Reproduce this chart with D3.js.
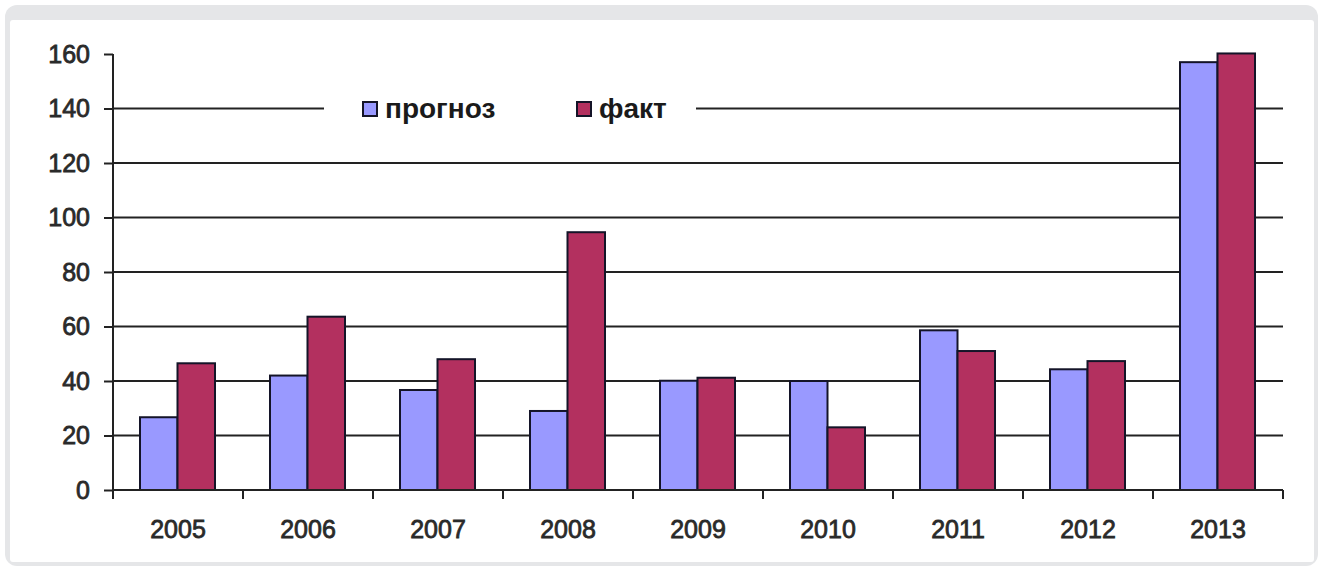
<!DOCTYPE html>
<html><head><meta charset="utf-8">
<script src="https://cdn.jsdelivr.net/npm/d3@7"></script>
<style>
html,body{margin:0;padding:0;background:#fff;}
svg{display:block;}
</style></head>
<body>
<svg id="chart" width="1319" height="568"></svg>
<script>
const categories = ["2005","2006","2007","2008","2009","2010","2011","2012","2013"];
const seriesNames = ["прогноз","факт"];
const forecast = [26.7, 42, 36.7, 29, 40.1, 40, 58.6, 44.3, 157];
const actual   = [46.5, 63.6, 48, 94.6, 41.2, 23, 51, 47.3, 160.2];
const yTicks = [0,20,40,60,80,100,120,140,160];
const colors = ["#9999ff","#b3305f"];

const svg = d3.select("#chart");
const font = "'Liberation Sans', Arial, sans-serif";

// frame
svg.append("rect").attr("x",5).attr("y",5).attr("width",1313).attr("height",561)
  .attr("rx",12).attr("fill","#e5e6e8");
svg.append("rect").attr("x",10).attr("y",20).attr("width",1304).attr("height",542)
  .attr("rx",3).attr("fill","#fff");

const x = d3.scaleBand().domain(categories).range([113,1283]).padding(0);
const inner = d3.scaleBand().domain(seriesNames).range([27,102]).padding(0);
const y = d3.scaleLinear().domain([0,160]).range([490,54]);

const g = svg.append("g");

// gridlines
g.selectAll("line.grid").data(yTicks.filter(t=>t>0 && t<160)).join("line")
  .attr("class","grid")
  .attr("x1",113).attr("x2",1283)
  .attr("y1",d=>y(d)).attr("y2",d=>y(d))
  .attr("stroke","#222").attr("stroke-width",2);

// legend background over gridline
svg.append("rect").attr("x",324).attr("y",94).attr("width",372).attr("height",30).attr("fill","#fff");

// bars
const data = categories.map((c,i)=>({c, vals:[forecast[i], actual[i]]}));
const groups = g.selectAll("g.grp").data(data).join("g")
  .attr("transform",d=>`translate(${x(d.c)},0)`);
groups.selectAll("rect").data(d=>d.vals.map((v,j)=>({v,s:seriesNames[j],j}))).join("rect")
  .attr("x",d=>inner(d.s)).attr("width",inner.bandwidth())
  .attr("y",d=>y(d.v)).attr("height",d=>y(0)-y(d.v))
  .attr("fill",d=>colors[d.j]).attr("stroke","#141428").attr("stroke-width",2);

// y axis
const yAxis = d3.axisLeft(y).tickValues(yTicks).tickSize(9).tickPadding(14);
const ya = svg.append("g").attr("transform","translate(113,0)").call(yAxis);
ya.select(".domain").attr("stroke","#222").attr("stroke-width",2).attr("d","M0,54V490");
ya.selectAll(".tick line").attr("stroke","#222").attr("stroke-width",2);
ya.selectAll(".tick text").attr("font-family",font).attr("font-size",25)
  .attr("fill","#2a2a2a").attr("stroke","#2a2a2a").attr("stroke-width",0.8);

// x axis
const xAxis = d3.axisBottom(x).tickSize(0).tickPadding(30);
const xa = svg.append("g").attr("transform","translate(0,490)").call(xAxis);
xa.select(".domain").attr("stroke","#222").attr("stroke-width",2).attr("d","M113,0H1283");
xa.selectAll(".tick text").attr("font-family",font).attr("font-size",25)
  .attr("fill","#2a2a2a").attr("stroke","#2a2a2a").attr("stroke-width",0.8);
// category boundary ticks
xa.selectAll("line.sep").data(categories.concat(["end"])).join("line")
  .attr("class","sep")
  .attr("x1",(d,i)=> i<categories.length ? x(d) : x(categories[categories.length-1])+x.bandwidth())
  .attr("x2",(d,i)=> i<categories.length ? x(d) : x(categories[categories.length-1])+x.bandwidth())
  .attr("y1",0).attr("y2",9).attr("stroke","#222").attr("stroke-width",2);

// legend
const legend = svg.append("g");
const legX = [363, 577];
seriesNames.forEach((s,i)=>{
  legend.append("rect").attr("x",legX[i]).attr("y",102).attr("width",14).attr("height",14)
    .attr("fill",colors[i]).attr("stroke","#141428").attr("stroke-width",2);
  legend.append("text").attr("x",legX[i]+22).attr("y",118).text(s)
    .attr("font-family",font).attr("font-size",28).attr("font-weight","bold").attr("fill","#1a1a1a");
});
</script>
</body></html>
